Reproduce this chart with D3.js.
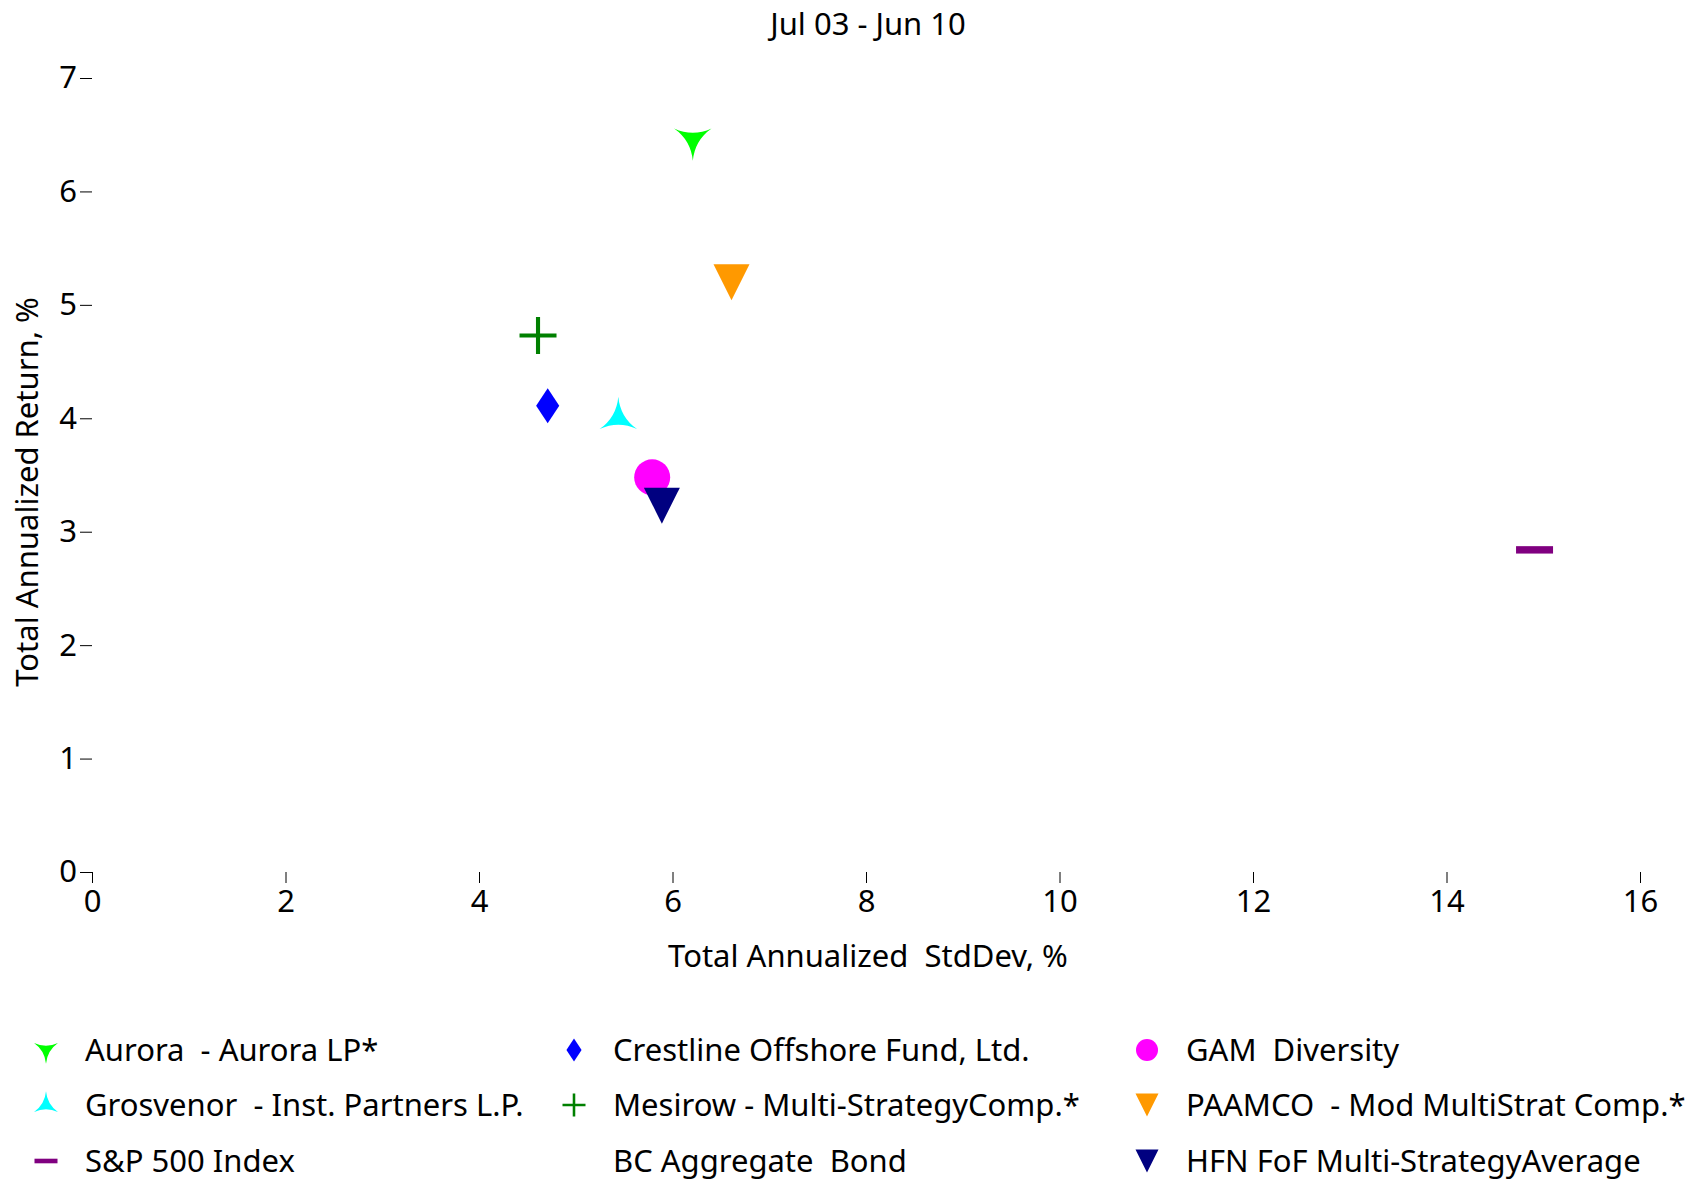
<!DOCTYPE html>
<html>
<head>
<meta charset="utf-8">
<script src="https://cdn.jsdelivr.net/npm/d3@7"></script>
<style>
  html, body { margin: 0; padding: 0; background: #fff; }
  svg text { font-family: "Noto Sans", "Open Sans", sans-serif; fill: #000; white-space: pre; }
</style>
</head>
<body>
<svg id="chart" width="1707" height="1188"></svg>
<script>
// ---- data ----
const title = "Jul 03 - Jun 10";
const xLabel = "Total Annualized  StdDev, %";
const yLabel = "Total Annualized Return, %";
const names = [
  "Aurora  - Aurora LP*",
  "Grosvenor  - Inst. Partners L.P.",
  "S&P 500 Index",
  "Crestline Offshore Fund, Ltd.",
  "Mesirow - Multi-StrategyComp.*",
  "BC Aggregate  Bond",
  "GAM  Diversity",
  "PAAMCO  - Mod MultiStrat Comp.*",
  "HFN FoF Multi-StrategyAverage"
];
const stdDev  = [6.21, 5.44, 14.91, 4.71, 4.61, null, 5.79, 6.61, 5.89];
const returns = [6.46, 4.00, 2.84, 4.11, 4.73, null, 3.48, 5.20, 3.23];
const colors  = ["#00ff00", "#00ffff", "#800080", "#0000ff", "#008000", "none", "#ff00ff", "#ff9900", "#000080"];
const markers = ["starDown", "starUp", "dash", "diamond", "plus", "none", "circle", "triDown", "triDown"];
const xTicks = [0, 2, 4, 6, 8, 10, 12, 14, 16];
const yTicks = [0, 1, 2, 3, 4, 5, 6, 7];

// ---- layout ----
const svg = d3.select("#chart");
const x = d3.scaleLinear().domain([0, 16]).range([92, 1640]);
const y = d3.scaleLinear().domain([0, 7]).range([872, 78]);
const FS = 31;

// custom symbol types
function star3(down) {
  return {
    draw(ctx, size) {
      const r = Math.sqrt(size) / 1.6;
      const base = down ? 90 : -90;
      const pts = [0, 120, 240].map(a => {
        const t = (base + a) * Math.PI / 180;
        return [r * Math.cos(t), r * Math.sin(t)];
      });
      ctx.moveTo(pts[0][0], pts[0][1]);
      for (let i = 1; i <= 3; i++) {
        const a = pts[(i - 1) % 3], b = pts[i % 3];
        const k = 0.1;
        ctx.quadraticCurveTo((a[0] + b[0]) * k, (a[1] + b[1]) * k, b[0], b[1]);
      }
      ctx.closePath();
    }
  };
}
const triDown = {
  draw(ctx, size) {
    const h = Math.sqrt(size) / 2;
    ctx.moveTo(-h, -h);
    ctx.lineTo(h, -h);
    ctx.lineTo(0, h);
    ctx.closePath();
  }
};
const diamond = {
  draw(ctx, size) {
    const h = Math.sqrt(size) / 2;
    ctx.moveTo(0, -h);
    ctx.lineTo(h * 0.66, 0);
    ctx.lineTo(0, h);
    ctx.lineTo(-h * 0.66, 0);
    ctx.closePath();
  }
};
const circle = {
  draw(ctx, size) {
    const r = Math.sqrt(size) / 2;
    ctx.moveTo(r, 0);
    ctx.arc(0, 0, r, 0, 2 * Math.PI);
  }
};

function drawMarker(g, type, color, s) {
  if (type === "none") return;
  if (type === "plus") {
    const h = s / 2;
    g.append("path").attr("d", `M${-h},0H${h}M0,${-h}V${h}`)
      .attr("stroke", color).attr("stroke-width", s / 9).attr("fill", "none");
    return;
  }
  if (type === "dash") {
    g.append("rect").attr("x", -s / 2).attr("y", -s * 0.1).attr("width", s).attr("height", s * 0.2)
      .attr("fill", color);
    return;
  }
  const map = { starDown: star3(true), starUp: star3(false), triDown, diamond, circle };
  let sz = s * s;
  if (type === "starDown" || type === "starUp") sz = (s * 0.6 * 1.6) ** 2;
  g.append("path").attr("d", d3.symbol().type(map[type]).size(sz)()).attr("fill", color);
}

// title
svg.append("text").attr("x", 868).attr("y", 35).attr("text-anchor", "middle")
  .attr("font-size", FS).text(title);

// axes (no domain lines)
const xAxis = svg.append("g").attr("transform", `translate(0,${y(0)})`)
  .call(d3.axisBottom(x).tickValues(xTicks).tickSize(11).tickPadding(7).tickFormat(d3.format("d")));
const yAxis = svg.append("g").attr("transform", `translate(${x(0)},0)`)
  .call(d3.axisLeft(y).tickValues(yTicks).tickSize(12).tickPadding(3).tickFormat(d3.format("d")));
[xAxis, yAxis].forEach(a => {
  a.select(".domain").remove();
  a.selectAll(".tick line").attr("stroke", "#000").attr("stroke-width", 1);
  a.selectAll(".tick text").attr("font-size", FS).attr("font-family", "Noto Sans").attr("fill", "#000");
});

// axis labels
svg.append("text").attr("x", 868).attr("y", 967).attr("text-anchor", "middle")
  .attr("font-size", FS).text(xLabel);
svg.append("text").attr("transform", `translate(38,492) rotate(-90)`).attr("text-anchor", "middle")
  .attr("font-size", FS).text(yLabel);

// points
const pts = names.map((n, i) => ({ n, x: stdDev[i], y: returns[i], c: colors[i], m: markers[i] }))
  .filter(d => d.x != null && d.y != null);
pts.forEach(d => {
  const g = svg.append("g").attr("transform", `translate(${x(d.x)},${y(d.y)})`);
  const big = { starDown: 36, starUp: 36, dash: 37, diamond: 35, plus: 37, circle: 36, triDown: 36 };
  drawMarker(g, d.m, d.c, big[d.m]);
});

// legend: 3 columns x 3 rows, column-major
const colX = [46, 574, 1147];
const rowY = [1050, 1105, 1161];
const textDX = 39;
names.forEach((n, i) => {
  const col = Math.floor(i / 3), row = i % 3;
  const g = svg.append("g").attr("transform", `translate(${colX[col]},${rowY[row]})`);
  const small = { starDown: 23, starUp: 23, dash: 23, diamond: 23, plus: 23, circle: 22, triDown: 23 };
  drawMarker(g, markers[i], colors[i], small[markers[i]] || 0);
  g.append("text").attr("x", textDX).attr("y", 0).attr("dy", "0.35em")
    .attr("font-size", FS).text(n);
});
</script>
</body>
</html>
